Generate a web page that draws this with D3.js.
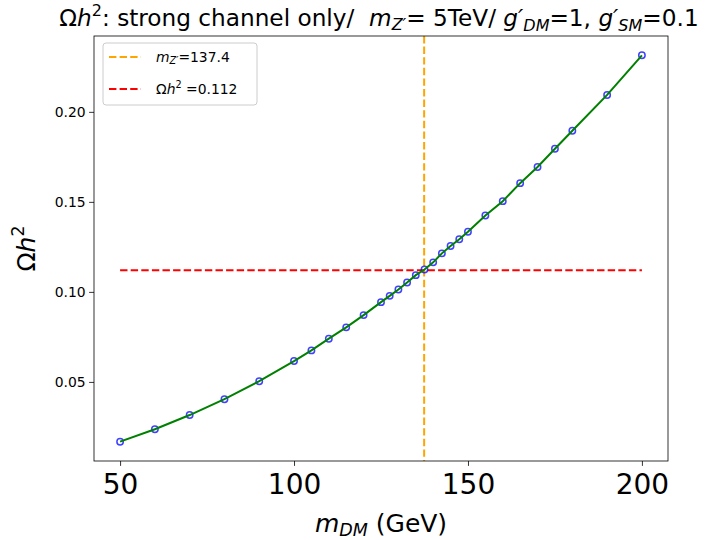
<!DOCTYPE html>
<html>
<head>
<meta charset="utf-8">
<script src="https://cdn.jsdelivr.net/npm/d3@7"></script>
<style>
  body { margin: 0; background: #fff; }
  text { font-family: "DejaVu Sans", sans-serif; }
</style>
</head>
<body>
<div id="chart"></div>
<script>
// data
var massDM = [50, 60, 70, 80, 90, 100, 105, 110, 115, 120, 125, 127.5, 130, 132.5, 135, 137.5,
  140, 142.5, 145, 147.5, 150, 155, 160, 165, 170, 175, 180, 190, 200];
var omegaH2 = [0.0168, 0.0237, 0.0316, 0.0404, 0.0504, 0.0616, 0.0675, 0.0740, 0.0803, 0.0871,
  0.0943, 0.0978, 0.1013, 0.1052, 0.1093, 0.1124, 0.1164, 0.1214, 0.1255, 0.1292, 0.1334,
  0.1424, 0.1504, 0.1604, 0.1694, 0.1795, 0.1895, 0.2094, 0.2314];
var mZp = 137.4;
var omegaRef = 0.112;
var xTicks = [50, 100, 150, 200];
var yTicks = [0.05, 0.10, 0.15, 0.20];

var W = 714, H = 540;
var margin = { top: 36, right: 46, bottom: 79, left: 94 };
var w = W - margin.left - margin.right;
var h = H - margin.top - margin.bottom;

var pts = massDM.map((m, i) => ({ x: m, y: omegaH2[i] }));

// matplotlib style 5% margins
var xe = d3.extent(massDM), ye = d3.extent(omegaH2);
var xp = (xe[1] - xe[0]) * 0.05, yp = (ye[1] - ye[0]) * 0.05;
var x = d3.scaleLinear().domain([xe[0] - xp, xe[1] + xp]).range([0, w]);
var y = d3.scaleLinear().domain([ye[0] - yp, ye[1] + yp]).range([h, 0]);

var svg = d3.select("#chart").append("svg")
  .attr("width", W).attr("height", H);

var g = svg.append("g")
  .attr("transform", "translate(" + margin.left + "," + margin.top + ")");

// reference lines
g.append("line")
  .attr("x1", x(mZp)).attr("x2", x(mZp))
  .attr("y1", 0).attr("y2", h)
  .attr("stroke", "orange").attr("stroke-width", 2)
  .attr("stroke-dasharray", "7.4,3.2");

g.append("line")
  .attr("x1", x(xe[0])).attr("x2", x(xe[1]))
  .attr("y1", y(omegaRef)).attr("y2", y(omegaRef))
  .attr("stroke", "red").attr("stroke-width", 2)
  .attr("stroke-dasharray", "7.4,3.2");

// markers then line on top
g.selectAll("circle.pt")
  .data(pts)
  .enter()
  .append("circle")
    .attr("class", "pt")
    .attr("cx", d => x(d.x))
    .attr("cy", d => y(d.y))
    .attr("r", 3.2)
    .attr("fill", "none")
    .attr("stroke", "#0000ff")
    .attr("stroke-opacity", 0.75)
    .attr("stroke-width", 1.5);

g.append("path")
  .datum(pts)
  .attr("fill", "none")
  .attr("stroke", "green")
  .attr("stroke-width", 2)
  .attr("d", d3.line().x(d => x(d.x)).y(d => y(d.y)));

// axes
var xAxis = g.append("g")
  .attr("transform", "translate(0," + h + ")")
  .call(d3.axisBottom(x).tickValues(xTicks).tickSize(4.9).tickPadding(8).tickFormat(d3.format("d")));
xAxis.selectAll("text").attr("font-size", "28px").attr("fill", "#000")
  .style("font-family", "DejaVu Sans");

var yAxis = g.append("g")
  .call(d3.axisLeft(y).tickValues(yTicks).tickSize(4.9).tickPadding(3.5).tickFormat(d3.format(".2f")));
yAxis.selectAll("text").attr("font-size", "13.9px").attr("fill", "#000")
  .style("font-family", "DejaVu Sans");

[xAxis, yAxis].forEach(a => {
  a.select(".domain").remove();
  a.selectAll("line").attr("stroke", "#000").attr("stroke-width", 0.8);
});

// frame
g.append("rect")
  .attr("width", w).attr("height", h)
  .attr("fill", "none").attr("stroke", "#000").attr("stroke-width", 0.8);

// legend
var lg = g.append("g").attr("transform", "translate(9,7)");
lg.append("rect")
  .attr("width", 154).attr("height", 62).attr("rx", 3)
  .attr("fill", "#fff").attr("fill-opacity", 0.8)
  .attr("stroke", "#cccccc").attr("stroke-width", 1);

var legItems = [
  { color: "orange", y: 14 },
  { color: "red", y: 46 }
];
legItems.forEach(it => {
  lg.append("line")
    .attr("x1", 6).attr("x2", 38).attr("y1", it.y).attr("y2", it.y)
    .attr("stroke", it.color).attr("stroke-width", 2)
    .attr("stroke-dasharray", "7.4,3.2");
});

var t1 = lg.append("text").attr("x", 53).attr("y", 14).attr("dy", "0.35em").attr("font-size", "13.9px");
t1.append("tspan").attr("font-style", "italic").text("m");
t1.append("tspan").attr("font-style", "italic").attr("font-size", "9.7px").attr("dy", 2.5).text("Z′");
t1.append("tspan").attr("dy", -2.5).text("=" + mZp);

var t2 = lg.append("text").attr("x", 53).attr("y", 46).attr("dy", "0.35em").attr("font-size", "13.9px");
t2.append("tspan").text("Ω");
t2.append("tspan").attr("font-style", "italic").text("h");
t2.append("tspan").attr("font-size", "9.7px").attr("dy", -6).text("2");
t2.append("tspan").attr("dy", 6).text(" =" + omegaRef);

// axis labels
var xl = svg.append("text")
  .attr("x", margin.left + w / 2).attr("y", 532)
  .attr("text-anchor", "middle").attr("font-size", "25px");
xl.append("tspan").attr("font-style", "italic").text("m");
xl.append("tspan").attr("font-style", "italic").attr("font-size", "17.5px").attr("dy", 4).text("DM");
xl.append("tspan").attr("dy", -4).text(" (GeV)");

var yl = svg.append("text")
  .attr("transform", "translate(35," + (margin.top + h / 2) + ") rotate(-90)")
  .attr("text-anchor", "middle").attr("font-size", "25px");
yl.append("tspan").text("Ω");
yl.append("tspan").attr("font-style", "italic").text("h");
yl.append("tspan").attr("font-size", "17.5px").attr("dy", -11).text("2");

// title
var ti = svg.append("text")
  .attr("x", margin.left + w / 2 - 2).attr("y", 26)
  .attr("text-anchor", "middle").attr("font-size", "23.2px");
ti.append("tspan").text("Ω");
ti.append("tspan").attr("font-style", "italic").text("h");
ti.append("tspan").attr("font-size", "16px").attr("dy", -10).text("2");
ti.append("tspan").attr("dy", 10).text(": strong channel only/\u00a0\u00a0");
ti.append("tspan").attr("font-style", "italic").text("m");
ti.append("tspan").attr("font-style", "italic").attr("font-size", "16px").attr("dy", 4).text("Z′");
ti.append("tspan").attr("dy", -4).text("= 5TeV/ ");
ti.append("tspan").attr("font-style", "italic").text("g′");
ti.append("tspan").attr("font-style", "italic").attr("font-size", "16px").attr("dy", 5).text("DM");
ti.append("tspan").attr("dy", -5).text("=1, ");
ti.append("tspan").attr("font-style", "italic").text("g′");
ti.append("tspan").attr("font-style", "italic").attr("font-size", "16px").attr("dy", 5).text("SM");
ti.append("tspan").attr("dy", -5).text("=0.1");
</script>
</body>
</html>
